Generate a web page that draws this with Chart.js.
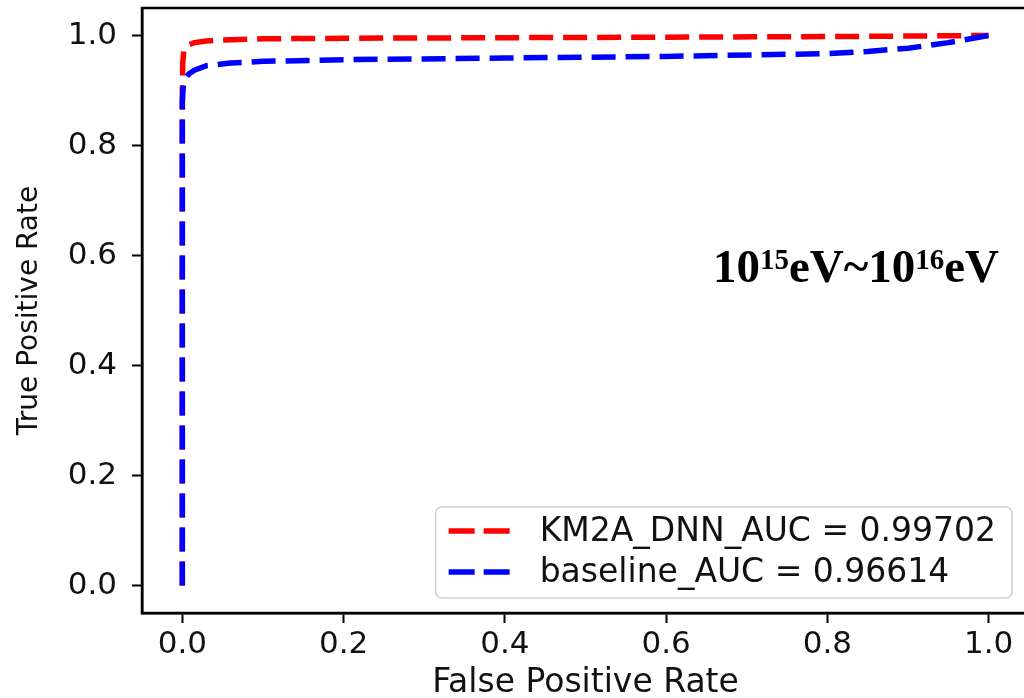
<!DOCTYPE html>
<html>
<head>
<meta charset="utf-8">
<script src="https://cdn.jsdelivr.net/npm/chart.js@4/dist/chart.umd.min.js"></script>
<style>
  html, body { margin: 0; padding: 0; background: #fff; overflow: hidden; }
  #wrap { position: relative; width: 1040px; height: 698px; }
</style>
</head>
<body>
<div id="wrap"><canvas id="rocChart"></canvas></div>
<script>
// ROC curve values
const dnnFpr = [0, 0, 0.0005, 0.002, 0.006, 0.015, 0.03, 0.05, 0.1, 0.2, 0.4, 0.6, 0.8, 0.9, 1.0];
const dnnTpr = [0, 0.9, 0.95, 0.975, 0.982, 0.987, 0.99, 0.992, 0.994, 0.995, 0.996, 0.997, 0.998, 0.999, 1.0];
const baseFpr = [0, 0, 0.001, 0.003, 0.008, 0.015, 0.03, 0.06, 0.1, 0.2, 0.4, 0.6, 0.8, 0.85, 0.9, 0.95, 1.0];
const baseTpr = [0, 0.88, 0.905, 0.92, 0.93, 0.937, 0.945, 0.95, 0.953, 0.956, 0.959, 0.962, 0.967, 0.971, 0.977, 0.987, 1.0];
const seriesLabels = ["KM2A_DNN_AUC = 0.99702", "baseline_AUC = 0.96614"];
const tickValues = [0, 0.2, 0.4, 0.6, 0.8, 1.0];

const toPoints = (xs, ys) => xs.map((x, i) => ({ x: x, y: ys[i] }));

// **Frame, legend box and energy label**
const extras = {
    id: "extras",
    afterDatasetsDraw(chart) {
        const ctx = chart.ctx;
        const area = chart.chartArea;

        // legend in the lower right of the axes
        ctx.save();
        ctx.font = "33px 'DejaVu Sans'";
        let maxText = 0;
        chart.data.datasets.forEach((ds) => {
            maxText = Math.max(maxText, ctx.measureText(ds.label).width);
        });
        let boxW = 104 + maxText + 16, boxH = 91;
        let boxX = area.right - 17 - boxW, boxY = area.bottom - 15 - boxH;
        ctx.beginPath();
        ctx.roundRect(boxX, boxY, boxW, boxH, 6);
        ctx.fillStyle = "rgba(255,255,255,0.85)";
        ctx.fill();
        ctx.strokeStyle = "#d0d0d0";
        ctx.lineWidth = 1.5;
        ctx.stroke();

        chart.data.datasets.forEach((ds, i) => {
            let rowY = boxY + 24 + i * 41;
            ctx.beginPath();
            ctx.setLineDash([26, 9]);
            ctx.lineCap = "butt";
            ctx.strokeStyle = ds.borderColor;
            ctx.lineWidth = 5.5;
            ctx.moveTo(boxX + 13, rowY);
            ctx.lineTo(boxX + 74, rowY);
            ctx.stroke();
            ctx.setLineDash([]);
            ctx.fillStyle = "#111";
            ctx.textBaseline = "middle";
            ctx.fillText(ds.label, boxX + 104, rowY + 1);
        });

        // energy range label
        let x = 713, base = 282;
        ctx.fillStyle = "#000";
        ctx.textBaseline = "alphabetic";
        const parts = [["10", 47, 0], ["15", 29, -13], ["eV~10", 47, 0], ["16", 29, -13], ["eV", 47, 0]];
        parts.forEach((p) => {
            ctx.font = "bold " + p[1] + "px 'Liberation Serif'";
            ctx.fillText(p[0], x, base + p[2]);
            x += ctx.measureText(p[0]).width;
        });
        ctx.restore();
    },
    afterDraw(chart) {
        const ctx = chart.ctx;
        const area = chart.chartArea;
        ctx.save();
        ctx.strokeStyle = "#000";
        ctx.lineWidth = 2.5;
        ctx.strokeRect(area.left, area.top, area.right - area.left, area.bottom - area.top);
        ctx.restore();
    }
};

function axisOptions(title, titleFont, titlePadding, fitFn) {
    return {
        type: "linear",
        min: -0.05,
        max: 1.05,
        afterBuildTicks: (s) => { s.ticks = tickValues.map((v) => ({ value: v })); },
        afterFit: (s) => {
            fitFn(s);
            s.paddingTop = 0; s.paddingBottom = 0;
            s.paddingLeft = 0; s.paddingRight = 0;
        },
        ticks: {
            callback: (v) => v.toFixed(1),
            color: "#111",
            font: { family: "'DejaVu Sans'", size: 31 },
            maxRotation: 0,
            autoSkip: false
        },
        grid: {
            drawOnChartArea: false,
            drawTicks: true,
            tickLength: 10,
            tickColor: "#000",
            tickWidth: 2
        },
        border: { display: true, color: "#000", width: 2.5 },
        title: {
            display: true,
            text: title,
            color: "#111",
            font: titleFont,
            padding: titlePadding
        }
    };
}

function drawRoc() {
    let ctx = document.getElementById("rocChart").getContext("2d");

    let xAxis = axisOptions("False Positive Rate",
        { family: "'DejaVu Sans'", size: 33, lineHeight: 0.9 }, 0,
        (s) => { s.height = 85; });
    xAxis.ticks.padding = 3;

    let yAxis = axisOptions("True Positive Rate",
        { family: "'DejaVu Sans'", size: 28 }, { top: 13, bottom: 0 },
        (s) => { s.width = 142; });
    yAxis.ticks.padding = 15;

    new Chart(ctx, {
        type: "scatter",
        data: {
            datasets: [
                {
                    label: seriesLabels[0],
                    data: toPoints(dnnFpr, dnnTpr),
                    borderColor: "#ff0000",
                    order: 2
                },
                {
                    label: seriesLabels[1],
                    data: toPoints(baseFpr, baseTpr),
                    borderColor: "#0000ff",
                    order: 1
                }
            ].map((ds) => Object.assign(ds, {
                showLine: true,
                tension: 0,
                borderWidth: 5.5,
                borderDash: [24, 10],
                borderCapStyle: "butt",
                pointRadius: 0,
                pointHoverRadius: 0,
                fill: false
            }))
        },
        options: {
            responsive: true,
            maintainAspectRatio: false,
            animation: false,
            devicePixelRatio: 1,
            layout: { padding: { top: 8, right: 11, left: 0, bottom: 0 } },
            plugins: {
                legend: { display: false },
                tooltip: { enabled: false }
            },
            scales: { x: xAxis, y: yAxis }
        },
        plugins: [extras]
    });
}

document.addEventListener("DOMContentLoaded", drawRoc);
</script>
</body>
</html>
